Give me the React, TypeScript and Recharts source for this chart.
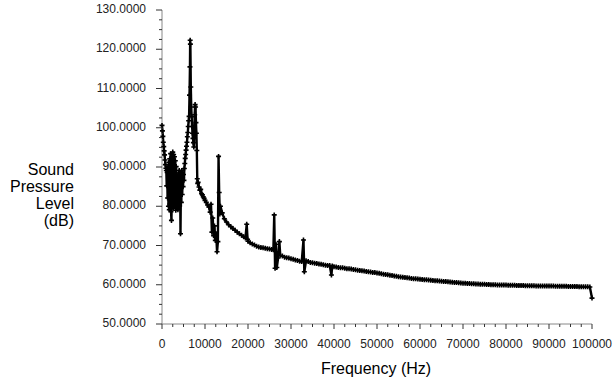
import React from "react";
import { LineChart, Line, XAxis, YAxis } from "recharts";

// [frequency (Hz), sound pressure level (dB)]
const lowBand: [number, number][] = [
  [0, 100.6], [100, 99.2], [200, 97.8], [300, 96.3], [400, 95.2], [500, 94.1], [600, 93.1], [700, 91.8],
  [800, 90.6], [900, 89.7], [1000, 89.1], [1100, 85.2], [1200, 88.6], [1300, 82.1], [1400, 90.1], [1500, 80.0],
  [1600, 91.2], [1700, 79.1], [1800, 92.1], [1900, 80.6], [2000, 93.4], [2100, 78.6], [2200, 76.4], [2300, 86.0],
  [2400, 82.0], [2500, 93.8], [2600, 79.5], [2700, 93.2], [2800, 80.0], [2900, 92.6], [3000, 81.0], [3100, 91.6],
  [3200, 79.0], [3300, 90.1], [3400, 82.0], [3500, 88.1], [3600, 84.0], [3700, 79.1], [3800, 87.2], [3900, 82.0],
  [4000, 89.1], [4100, 80.1], [4200, 88.6], [4300, 73.0], [4400, 85.1], [4500, 81.0], [4600, 89.1], [4700, 83.0],
  [4800, 87.2], [4900, 85.0], [5000, 88.1], [5100, 86.6], [5200, 89.6], [5300, 90.9], [5400, 92.2], [5500, 93.2],
  [5600, 94.3], [5700, 95.3], [5800, 96.3], [5900, 97.7], [6000, 98.8], [6100, 100.3], [6200, 101.8], [6300, 102.9],
  [6400, 108.3], [6500, 115.5], [6550, 122.3], [6600, 121.3], [6700, 110.4], [6800, 105.3], [6900, 102.8], [7000, 100.3],
  [7100, 98.6], [7200, 97.3], [7300, 96.2], [7400, 95.1], [7500, 98.3], [7600, 103.3], [7700, 105.9], [7800, 105.3],
  [7900, 101.3], [8000, 98.6], [8100, 94.2], [8200, 87.0], [8300, 85.8], [8400, 86.1], [8600, 84.9], [8800, 84.1],
  [9000, 84.3], [9200, 83.2], [9400, 82.9], [9600, 82.4], [9800, 82.0],
];

const midBand: [number, number][] = [
  [10000, 81.5], [10300, 81.0], [10600, 80.3], [10900, 79.8], [11200, 78.5], [11400, 80.5], [11600, 73.4], [11800, 77.0],
  [12000, 72.5], [12200, 75.0], [12400, 71.3], [12600, 73.0], [12800, 68.4], [13000, 71.0], [13150, 92.7], [13300, 83.5],
  [13450, 78.0], [13600, 80.0], [14000, 78.3], [14500, 76.8], [15000, 76.0], [15500, 75.3], [16000, 74.8], [16500, 74.3],
  [17000, 73.9], [17500, 73.4], [18000, 73.0], [18500, 72.6], [19000, 72.2], [19400, 71.9], [19700, 75.4], [19900, 71.6],
  [20000, 71.1], [20500, 70.7], [21000, 70.4], [21500, 70.1], [22000, 69.8], [22500, 69.6], [23000, 69.5], [23500, 69.4],
  [24000, 69.3], [24500, 69.2], [25000, 69.1], [25500, 69.0], [25900, 68.9], [26100, 77.8], [26300, 64.2], [26500, 70.3],
  [26700, 64.4], [27000, 66.8], [27300, 71.0], [27500, 67.5], [28000, 67.3], [28500, 67.0], [29000, 66.9], [29500, 66.8],
  [30000, 66.6], [30500, 66.5], [31000, 66.3], [31500, 66.2], [32000, 66.0], [32500, 65.9], [32900, 71.4], [33100, 63.3],
  [33500, 66.1], [34000, 65.9], [34500, 65.7], [35000, 65.6], [35500, 65.5], [36000, 65.4], [36500, 65.3], [37000, 65.2],
  [37500, 65.1], [38000, 65.0], [38500, 64.9], [39000, 64.9], [39400, 62.5], [39600, 64.8],
];

const highBand: [number, number][] = [
  [40000, 64.6], [40500, 64.5], [41000, 64.4], [41500, 64.35], [42000, 64.3], [42500, 64.2], [43000, 64.1], [43500, 64.05],
  [44000, 64.0], [44500, 63.9], [45000, 63.8], [45500, 63.7], [46000, 63.65], [46500, 63.55], [47000, 63.5], [47500, 63.4],
  [48000, 63.3], [48500, 63.25], [49000, 63.15], [49500, 63.1], [50000, 63.0], [50500, 62.9], [51000, 62.8], [51500, 62.7],
  [52000, 62.6], [52500, 62.55], [53000, 62.45], [53500, 62.35], [54000, 62.25], [54500, 62.15], [55000, 62.05], [55500, 61.95],
  [56000, 61.9], [56500, 61.85], [57000, 61.8], [57500, 61.7], [58000, 61.6], [58500, 61.55], [59000, 61.5], [59500, 61.45],
  [60000, 61.4], [60500, 61.35], [61000, 61.3], [61500, 61.25], [62000, 61.2], [62500, 61.15], [63000, 61.1], [63500, 61.05],
  [64000, 61.0], [64500, 60.95], [65000, 60.9], [65500, 60.85], [66000, 60.8], [66500, 60.75], [67000, 60.7], [67500, 60.65],
  [68000, 60.6], [68500, 60.55], [69000, 60.5], [69500, 60.45], [70000, 60.4], [70500, 60.37], [71000, 60.34], [71500, 60.3],
  [72000, 60.27], [72500, 60.24], [73000, 60.2], [73500, 60.17], [74000, 60.14], [74500, 60.12], [75000, 60.1], [75500, 60.07],
  [76000, 60.05], [76500, 60.03], [77000, 60.0], [77500, 59.98], [78000, 59.96], [78500, 59.95], [79000, 59.94], [79500, 59.93],
  [80000, 59.92], [80500, 59.9], [81000, 59.88], [81500, 59.86], [82000, 59.85], [82500, 59.83], [83000, 59.81], [83500, 59.8],
  [84000, 59.78], [84500, 59.77], [85000, 59.75], [85500, 59.74], [86000, 59.73], [86500, 59.72], [87000, 59.71], [87500, 59.7],
  [88000, 59.7], [88500, 59.69], [89000, 59.68], [89500, 59.68], [90000, 59.67], [90500, 59.66], [91000, 59.65], [91500, 59.64],
  [92000, 59.63], [92500, 59.62], [93000, 59.61], [93500, 59.6], [94000, 59.59], [94500, 59.58], [95000, 59.57], [95500, 59.56],
  [96000, 59.55], [96500, 59.54], [97000, 59.52], [97500, 59.5], [98000, 59.49], [98500, 59.47], [99000, 59.46], [99500, 59.44],
  [100000, 56.6],
];

const xMajorTicks = [0, 10000, 20000, 30000, 40000, 50000, 60000, 70000, 80000, 90000, 100000];
const yMajorTicks = [50, 60, 70, 80, 90, 100, 110, 120, 130];

const xTicks: number[] = [];
for (let i = 0; i < xMajorTicks.length - 1; i++) {
  const a = xMajorTicks[i];
  const step = (xMajorTicks[i + 1] - a) / 4;
  for (let k = 0; k < 4; k++) xTicks.push(a + k * step);
}
xTicks.push(xMajorTicks[xMajorTicks.length - 1]);

const yTicks: number[] = [];
for (let i = 0; i < yMajorTicks.length - 1; i++) {
  const a = yMajorTicks[i];
  const step = (yMajorTicks[i + 1] - a) / 4;
  for (let k = 0; k < 4; k++) yTicks.push(a + k * step);
}
yTicks.push(yMajorTicks[yMajorTicks.length - 1]);

const data = [...lowBand, ...midBand, ...highBand].map(([f, spl]) => ({ f, spl }));

const FONT = "'Liberation Sans', Arial, sans-serif";

const XTick = (props: any) => {
  const { x, y, payload } = props;
  const v = payload.value as number;
  const major = xMajorTicks.includes(v);
  return (
    <g>
      <line x1={x} y1={y} x2={x} y2={y + (major ? 5 : 3)} stroke="#333" strokeWidth={1} />
      {major && (
        <text x={x} y={y + 20} textAnchor="middle" dy="0.35em" fontSize={12} fill="#222" fontFamily={FONT}>
          {v}
        </text>
      )}
    </g>
  );
};

const YTick = (props: any) => {
  const { x, y, payload } = props;
  const v = payload.value as number;
  const major = yMajorTicks.includes(v);
  return (
    <g>
      <line x1={x - (major ? 6 : 3)} y1={y} x2={x} y2={y} stroke="#333" strokeWidth={1} />
      {major && (
        <text x={x - 16} y={y - 1} textAnchor="end" dy="0.35em" fontSize={12} fill="#222" fontFamily={FONT}>
          {v.toFixed(4)}
        </text>
      )}
    </g>
  );
};

const PlusDot = (props: any) => {
  const { cx, cy, index } = props;
  if (cx == null || cy == null) return <g key={`d${index}`} />;
  return (
    <path
      key={`d${index}`}
      d={`M${cx - 2.5},${cy}h5M${cx},${cy - 2.5}v5`}
      stroke="#000"
      strokeWidth={1.6}
      fill="none"
    />
  );
};

export default function App() {
  return (
    <div style={{ position: "absolute", left: 0, top: 0, width: 616, height: 383, background: "#fff" }}>
      <LineChart
        width={616}
        height={383}
        data={data}
        margin={{ top: 10, right: 24, left: 0, bottom: 29 }}
      >
        <XAxis
          type="number"
          dataKey="f"
          domain={[0, 100000]}
          ticks={xTicks}
          interval={0}
          tickSize={0}
          tickMargin={0}
          tick={<XTick />}
          axisLine={{ stroke: "#888" }}
          tickLine={false}
          height={30}
        />
        <YAxis
          type="number"
          domain={[50, 130]}
          ticks={yTicks}
          interval={0}
          tickSize={0}
          tickMargin={0}
          tick={<YTick />}
          axisLine={{ stroke: "#888" }}
          tickLine={false}
          width={162}
        />
        <Line
          type="linear"
          dataKey="spl"
          stroke="#000"
          strokeWidth={2.4}
          strokeLinejoin="round"
          dot={PlusDot}
          activeDot={false}
          isAnimationActive={false}
        />
      </LineChart>
      <div
        style={{
          position: "absolute",
          left: 0,
          top: 161,
          width: 74,
          textAlign: "right",
          fontFamily: FONT,
          fontSize: 16,
          lineHeight: "17px",
          color: "#000",
        }}
      >
        Sound
        <br />
        Pressure
        <br />
        Level
        <br />
        (dB)
      </div>
      <div
        style={{
          position: "absolute",
          left: 276,
          top: 360,
          width: 200,
          textAlign: "center",
          fontFamily: FONT,
          fontSize: 16,
          lineHeight: "18px",
          color: "#000",
        }}
      >
        Frequency (Hz)
      </div>
    </div>
  );
}
